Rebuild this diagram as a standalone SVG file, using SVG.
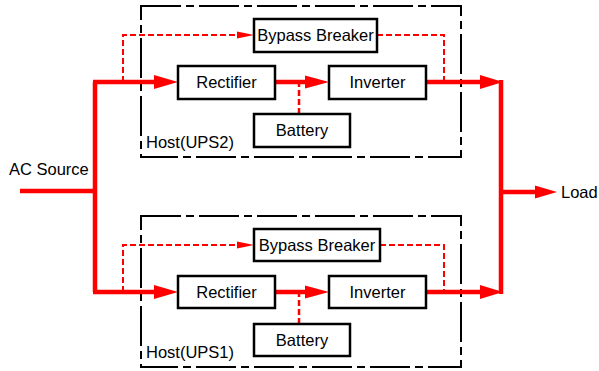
<svg xmlns="http://www.w3.org/2000/svg" width="599" height="371" viewBox="0 0 599 371">
<defs>
<style>
.host{fill:none;stroke:#000;stroke-width:2;stroke-dasharray:40 5 8 5}
.node rect{fill:#fff;stroke:#000;stroke-width:2.5}
text{font-family:"Liberation Sans",Arial,sans-serif;font-size:16.5px;fill:#000}
.c{text-anchor:middle}
.main{fill:none;stroke:#ff0000;stroke-width:4.5;stroke-linejoin:miter}
.dash{fill:none;stroke:#ff0000;stroke-width:2;stroke-dasharray:6 3}
.ah{fill:#ff0000}
</style>
</defs>
<rect width="599" height="371" fill="#fff"/>
<g id="host-ups2"><rect class="host" x="141" y="6" width="320" height="151"/><text x="146" y="148">Host(UPS2)</text></g>
<g id="host-ups1"><rect class="host" x="141" y="216" width="320" height="151"/><text x="146" y="358">Host(UPS1)</text></g>
<g id="connectors">
<path class="main" d="M20 191 H95 M95 82 V292"/>
<path class="main" d="M93 82 H158"/>
<polygon class="ah" points="154,75 178,82 154,89"/>
<path class="dash" d="M123 82 V35 H240"/>
<polygon class="ah" points="237,31.5 254,35 237,38.5"/>
<path class="main" d="M275 82 H308"/>
<polygon class="ah" points="305,75.5 329,82 305,88.5"/>
<path class="dash" d="M299 114 V84" style="stroke-width:2.5"/>
<path class="dash" d="M377 35 H444 V82"/>
<path class="main" d="M426 82 H484"/>
<polygon class="ah" points="480,75 503,82 480,89"/>
<path class="main" d="M93 292 H158"/>
<polygon class="ah" points="154,285 178,292 154,299"/>
<path class="dash" d="M123 292 V245 H240"/>
<polygon class="ah" points="237,241.5 254,245 237,248.5"/>
<path class="main" d="M275 292 H308"/>
<polygon class="ah" points="305,285.5 329,292 305,298.5"/>
<path class="dash" d="M299 324 V294" style="stroke-width:2.5"/>
<path class="dash" d="M380 245 H444 V292"/>
<path class="main" d="M426 292 H484"/>
<polygon class="ah" points="480,285 503,292 480,299"/>
<path class="main" d="M501 80 V294 M501 192 H538"/>
<polygon class="ah" points="535,185.5 557,192 535,198.5"/>
</g>
<g id="bypass2" class="node"><rect x="254" y="19" width="123" height="33"/><text class="c" x="315.5" y="41">Bypass Breaker</text></g>
<g id="rectifier2" class="node"><rect x="178" y="66" width="97" height="33"/><text class="c" x="226.5" y="88">Rectifier</text></g>
<g id="inverter2" class="node"><rect x="329" y="66" width="97" height="33"/><text class="c" x="377.5" y="88">Inverter</text></g>
<g id="battery2" class="node"><rect x="254" y="114" width="96" height="33"/><text class="c" x="302" y="136">Battery</text></g>
<g id="bypass1" class="node"><rect x="254" y="229" width="126" height="32"/><text class="c" x="317" y="251">Bypass Breaker</text></g>
<g id="rectifier1" class="node"><rect x="178" y="276" width="97" height="32"/><text class="c" x="226.5" y="298">Rectifier</text></g>
<g id="inverter1" class="node"><rect x="329" y="276" width="97" height="32"/><text class="c" x="377.5" y="298">Inverter</text></g>
<g id="battery1" class="node"><rect x="254" y="324" width="96" height="32"/><text class="c" x="302" y="346">Battery</text></g>
<g id="ac-source"><text x="9" y="175">AC Source</text></g>
<g id="load"><text x="561" y="198">Load</text></g>
</svg>
